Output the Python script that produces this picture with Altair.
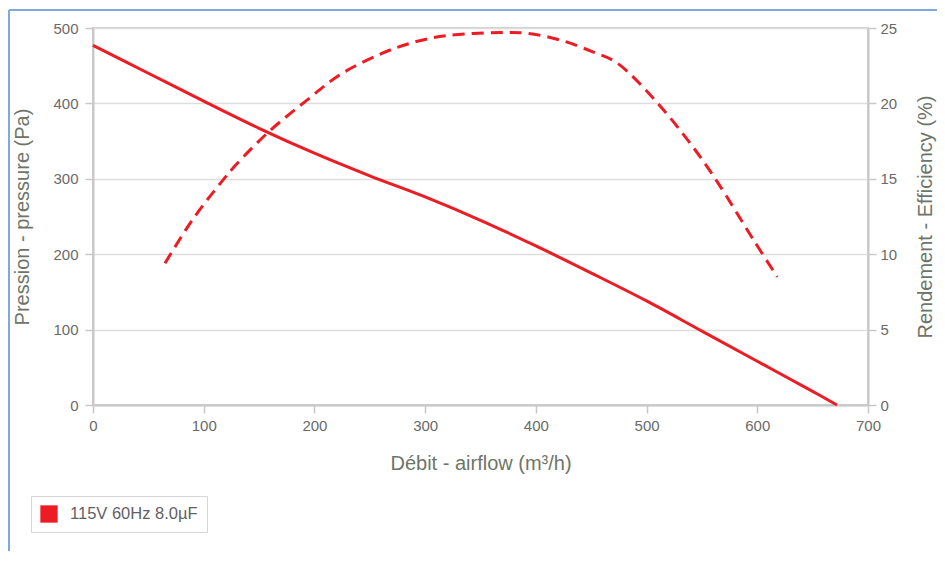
import altair as alt
import pandas as pd

series_name = "115V 60Hz 8.0µF"

# Pressure curve (solid, left axis)
flow_pressure = [0, 50, 100, 150, 200, 250, 300, 350, 400, 450, 500, 550, 600, 650, 672]
pressure = [477, 440, 403, 367, 334, 304, 276, 245, 211, 175, 138, 98, 58, 18, 0]

# Efficiency curve (dashed, right axis)
flow_eff = [65, 90, 115, 130, 160, 193, 223, 262, 292, 320, 368, 392, 422, 452, 473, 509, 542, 563, 597, 618]
efficiency = [9.4, 12.3, 14.7, 16.0, 18.2, 20.2, 21.9, 23.35, 24.1, 24.5, 24.7, 24.65, 24.2, 23.4, 22.7, 20.1, 17.1, 14.9, 10.9, 8.5]

x_ticks = [0, 100, 200, 300, 400, 500, 600, 700]
p_ticks = [0, 100, 200, 300, 400, 500]
e_ticks = [0, 5, 10, 15, 20, 25]

RED = "#ed1c24"
FONT = "Liberation Sans"

df_p = pd.DataFrame({"flow": flow_pressure, "value": pressure, "series": series_name})
df_e = pd.DataFrame({"flow": flow_eff, "value": efficiency, "series": series_name})
df_one = pd.DataFrame({"k": [0]})

x_scale = alt.Scale(domain=[0, 700], nice=False)
color_scale = alt.Scale(domain=[series_name], range=[RED])
legend = alt.Legend(
    title=None, orient="none", legendX=-62, legendY=468,
    symbolType="square", symbolSize=300, symbolFillColor=RED,
    symbolStrokeWidth=0, symbolOpacity=1,
    labelFont=FONT, labelFontSize=16.5, labelColor="#5f5f66", labelOffset=12,
    padding=9, strokeColor="#d6d6d6", fillColor="white", cornerRadius=0,
)

x_axis = alt.Axis(
    values=x_ticks, title="Débit - airflow (m³/h)", grid=False, labelFlush=False,
    labelPadding=5, titleX=387.5, titleY=64, titleBaseline="alphabetic",
)

p_line = alt.Chart(df_p).mark_line(strokeWidth=3, interpolate="catmull-rom").encode(
    x=alt.X("flow:Q", scale=x_scale, axis=x_axis),
    y=alt.Y("value:Q", scale=alt.Scale(domain=[0, 500], nice=False),
            axis=alt.Axis(orient="left", values=p_ticks, title="Pression - pressure (Pa)",
                          grid=True, labelPadding=7, titleAngle=270,
                          titleX=-71, titleY=188.5, titleAlign="center", titleBaseline="middle")),
    color=alt.Color("series:N", scale=color_scale, legend=legend),
)

e_line = alt.Chart(df_e).mark_line(strokeWidth=3, strokeDash=[12, 7], interpolate="catmull-rom").encode(
    x=alt.X("flow:Q", scale=x_scale, axis=x_axis),
    y=alt.Y("value:Q", scale=alt.Scale(domain=[0, 25], nice=False),
            axis=alt.Axis(orient="right", values=e_ticks, title="Rendement - Efficiency (%)",
                          grid=False, labelPadding=4, titleAngle=270,
                          titleX=57, titleY=188.5, titleAlign="center", titleBaseline="middle")),
    color=alt.Color("series:N", scale=color_scale, legend=legend),
)

frame_top = alt.Chart(df_one).mark_rule(color="#7fa9dc", strokeWidth=2).encode(
    x=alt.value(-84), x2=alt.value(860), y=alt.value(-18)
)
frame_left = alt.Chart(df_one).mark_rule(color="#7fa9dc", strokeWidth=2).encode(
    x=alt.value(-84), y=alt.value(-18), y2=alt.value(560)
)

chart = (
    alt.layer(p_line, e_line, frame_top, frame_left)
    .resolve_scale(y="independent")
    .properties(
        width=775, height=377,
        padding={"left": 85, "top": 20, "right": 69, "bottom": 146},
        autosize=alt.AutoSizeParams(type="none"),
        background="white",
    )
    .configure_view(stroke="#cccccc", strokeWidth=2)
    .configure_axis(
        labelFont=FONT, labelFontSize=15, labelColor="#6a6a6a",
        titleFont=FONT, titleFontSize=20, titleFontWeight="normal", titleColor="#6e7568",
        tickColor="#c8c8c8", tickSize=8, tickWidth=1.5,
        domainColor="#c8c8c8", domainWidth=2,
        gridColor="#dddddd", gridWidth=1.5,
    )
)

chart.save("out.html", embed_options={"renderer": "svg", "actions": False})
